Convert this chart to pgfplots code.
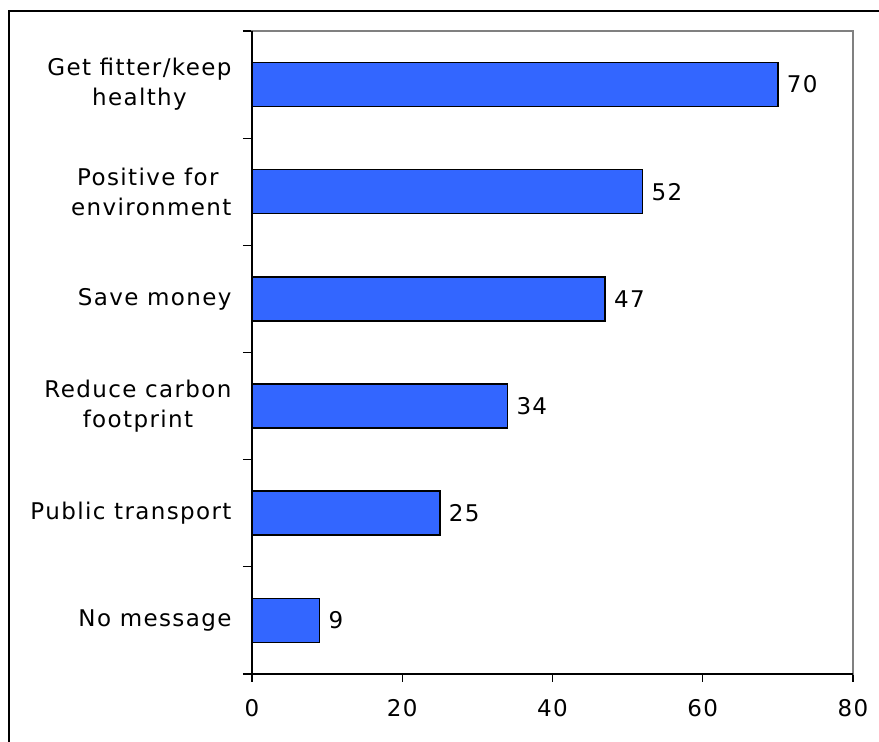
\documentclass[border=0pt]{standalone}
\usepackage{fontspec}
\setmainfont{DejaVu Sans}[LetterSpace=6]
\usepackage{pgfplots}
\pgfplotsset{compat=1.18}
\definecolor{barblue}{RGB}{51,102,255}
\definecolor{framegray}{RGB}{128,128,128}
\newcommand{\chartfont}{\fontsize{23}{30}\selectfont}

\begin{document}
\begin{tikzpicture}[x=1pt,y=1pt]
\useasboundingbox (0,0) rectangle (879,742);
% outer frame of the chart area
\draw[line width=2.2pt] (9,-10) -- (9,731) -- (890,731);
\begin{axis}[
  at={(252pt,68pt)}, anchor=south west,
  scale only axis, width=601pt, height=643pt,
  xmin=0, xmax=80, ymin=-0.5, ymax=5.5,
  xbar, bar width=44pt,
  xtick={0,20,...,80},
  ytick={0,...,5},
  yticklabels={No message, Public transport, {Reduce carbon\\footprint}, Save money, {Positive for\hspace*{7pt}\\environment}, {Get fitter/keep\\healthy}},
  minor ytick={-0.5,0.5,...,5.5},
  tick align=outside,
  major tick length=8pt, minor tick length=9pt,
  every tick/.style={black, line width=1.2pt},
  major y tick style={draw=none},
  xtick pos=bottom, ytick pos=left,
  axis line style={framegray, line width=1.4pt},
  /pgf/number format/assume math mode=true,
  tick label style={font=\chartfont},
  yticklabel style={align=center, xshift=-9pt},
  xticklabel style={yshift=-14pt},
  nodes near coords,
  every node near coord/.append style={font=\chartfont, black, xshift=5pt},
  clip=false,
]
\addplot[fill=barblue, draw=black, line width=1.5pt]
  coordinates {(9,0) (25,1) (34,2) (47,3) (52,4) (70,5)};
% left and bottom axis lines in black
\draw[black, line width=1.3pt] (rel axis cs:0,1) -- (rel axis cs:0,0) -- (rel axis cs:1,0);
\end{axis}
\end{tikzpicture}
\end{document}
